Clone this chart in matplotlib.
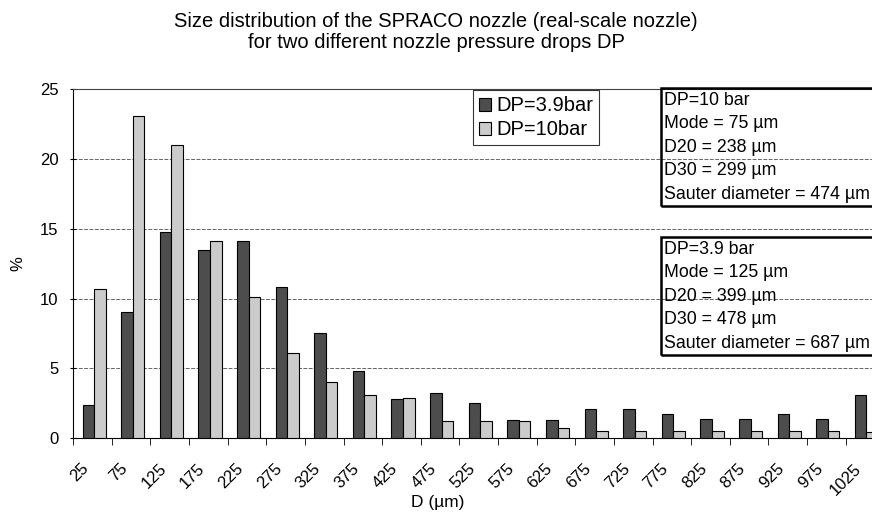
import numpy as np
import matplotlib.pyplot as plt
from matplotlib.transforms import ScaledTranslation

plt.rcParams['font.family'] = ['Liberation Sans', 'DejaVu Sans']

# Classes de diamètre (µm) et pourcentages
diametres = [25, 75, 125, 175, 225, 275, 325, 375, 425, 475, 525,
             575, 625, 675, 725, 775, 825, 875, 925, 975, 1025]
dp_39 = [2.4, 9.0, 14.8, 13.5, 14.1, 10.8, 7.5, 4.8, 2.8, 3.2, 2.5,
         1.3, 1.3, 2.1, 2.1, 1.7, 1.4, 1.4, 1.7, 1.4, 3.1]
dp_10 = [10.7, 23.1, 21.0, 14.1, 10.1, 6.1, 4.0, 3.1, 2.9, 1.2, 1.2,
         1.2, 0.7, 0.5, 0.5, 0.5, 0.5, 0.5, 0.5, 0.5, 0.4]

texte_10 = "DP=10 bar\nMode = 75 µm\nD20 = 238 µm\nD30 = 299 µm\nSauter diameter = 474 µm"
texte_39 = "DP=3.9 bar\nMode = 125 µm\nD20 = 399 µm\nD30 = 478 µm\nSauter diameter = 687 µm"

fig = plt.figure(figsize=(8.72, 5.31), dpi=100)
ax = fig.add_axes([0.084, 0.175, 0.93, 0.657])

x = np.arange(len(diametres))
w = 0.3
ax.bar(x - w / 2 + 0.04, dp_39, w, color='#4d4d4d', edgecolor='black', linewidth=0.8,
       label='DP=3.9bar', zorder=3)
ax.bar(x + w / 2 + 0.04, dp_10, w, color='#cbcbcb', edgecolor='black', linewidth=0.8,
       label='DP=10bar', zorder=3)

ax.set_xlim(-0.5, len(diametres) - 0.5)
ax.set_ylim(0, 25)
ax.set_yticks([0, 5, 10, 15, 20, 25])
ax.tick_params(axis='y', labelsize=12, length=5, direction='inout', pad=8)

ax.set_xticks(x)
ax.set_xticklabels(diametres, rotation=45, ha='right', va='center',
                   rotation_mode='anchor', fontsize=12)
ax.tick_params(axis='x', length=0, pad=18)
decalage = ScaledTranslation(-6 / 100, -3 / 100, fig.dpi_scale_trans)
for lab in ax.get_xticklabels():
    lab.set_transform(lab.get_transform() + decalage)
ax.set_xticks(np.arange(len(diametres) + 1) - 0.5, minor=True)
ax.tick_params(axis='x', which='minor', length=5, direction='out')

ax.yaxis.grid(True, color='#666666', linestyle=(0, (4, 1.5)), linewidth=0.7, zorder=1)
ax.spines['right'].set_visible(False)
ax.spines['top'].set_linestyle((0, (1, 1)))
ax.spines['top'].set_color('#444444')

ax.set_xlabel('D (µm)', fontsize=12.5)
ax.xaxis.set_label_coords(0.45, -0.162)
ax.set_ylabel('%', fontsize=12, rotation=90)
ax.yaxis.set_label_coords(-0.059, 0.5)

fig.suptitle('Size distribution of the SPRACO nozzle (real-scale nozzle)\nfor two different nozzle pressure drops DP',
             fontsize=14.5, x=0.5, y=0.978, linespacing=1.15)

leg = ax.legend(loc='upper left', bbox_to_anchor=(0.493, 0.997), fontsize=14.5, frameon=True,
                fancybox=False, edgecolor='black', handlelength=0.6, handleheight=0.6,
                handletextpad=0.25, borderpad=0.3, labelspacing=0.25, borderaxespad=0)
leg.get_frame().set_linewidth(0.8)

boite = dict(boxstyle='square,pad=0.2', facecolor='none', edgecolor='black', linewidth=1.8)
ax.text(0.729, 0.993, texte_10, transform=ax.transAxes, va='top', ha='left',
        fontsize=12.8, linespacing=1.5, bbox=boite, zorder=4)
ax.text(0.729, 0.566, texte_39, transform=ax.transAxes, va='top', ha='left',
        fontsize=12.8, linespacing=1.5, bbox=boite, zorder=4)

fig.savefig('out.png', dpi=100)
